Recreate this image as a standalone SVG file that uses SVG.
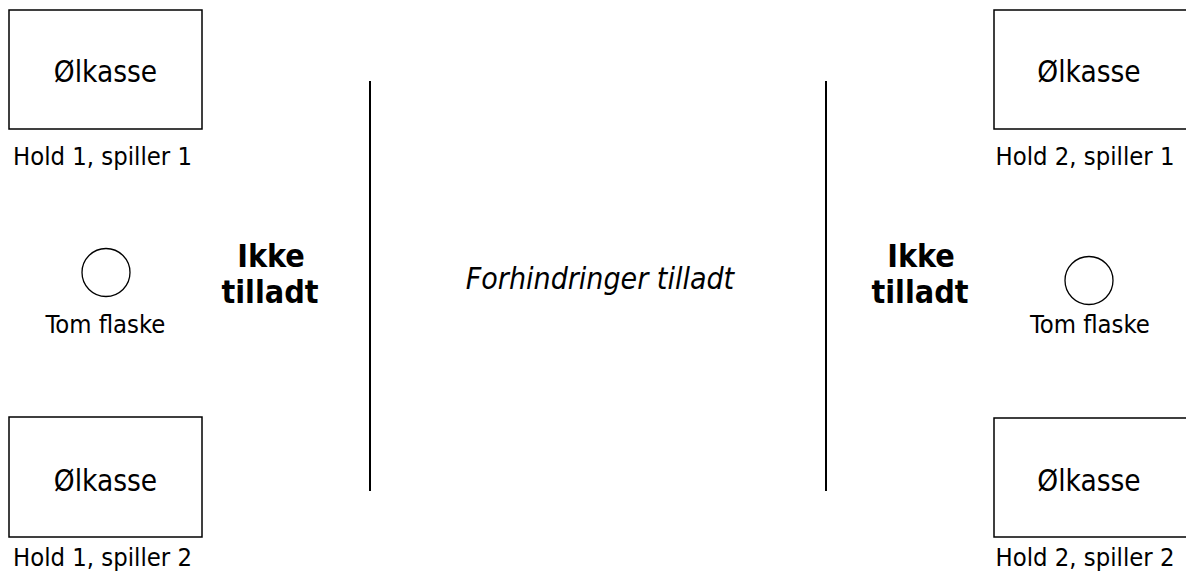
<svg xmlns="http://www.w3.org/2000/svg" width="1186" height="581" viewBox="0 0 1186 581">
<style>
text{font-family:"DejaVu Sans Condensed","DejaVu Sans",sans-serif;font-stretch:condensed;fill:#000;text-anchor:middle}
.box{fill:#fff;stroke:#000;stroke-width:1.5}
.bottle{fill:#fff;stroke:#000;stroke-width:1.3}
.lbl{font-size:29.5px}
.cap{font-size:25.4px}
.zone{font-size:32px;font-weight:bold}
.obs{font-size:30px;font-style:italic}
.line{stroke:#000;stroke-width:2}
</style>
<rect width="1186" height="581" fill="#fff"/>
<g id="kasse-h1s1"><rect class="box" x="9" y="10" width="193" height="119"/><text class="lbl" x="105.5" y="82">Ølkasse</text></g>
<g id="lbl-h1s1"><text class="cap" x="102.5" y="165">Hold 1, spiller 1</text></g>
<g id="kasse-h2s1"><rect class="box" x="994" y="10" width="200" height="119"/><text class="lbl" x="1089" y="82">Ølkasse</text></g>
<g id="lbl-h2s1"><text class="cap" x="1085" y="165">Hold 2, spiller 1</text></g>
<g id="flaske-1"><circle class="bottle" cx="106" cy="272.5" r="24"/><text class="cap" x="105.5" y="333">Tom flaske</text></g>
<g id="flaske-2"><circle class="bottle" cx="1089" cy="280.5" r="24"/><text class="cap" x="1090" y="333">Tom flaske</text></g>
<g id="zone-left"><text class="zone" x="271" y="267">Ikke</text><text class="zone" x="270" y="303">tilladt</text></g>
<g id="zone-right"><text class="zone" x="921" y="267">Ikke</text><text class="zone" x="920" y="303">tilladt</text></g>
<g id="zone-mid"><text class="obs" x="600" y="289">Forhindringer tilladt</text></g>
<g id="kasse-h1s2"><rect class="box" x="9" y="417" width="193" height="120"/><text class="lbl" x="105.5" y="491">Ølkasse</text></g>
<g id="lbl-h1s2"><text class="cap" x="102.5" y="566">Hold 1, spiller 2</text></g>
<g id="kasse-h2s2"><rect class="box" x="994" y="418" width="200" height="119"/><text class="lbl" x="1089" y="491">Ølkasse</text></g>
<g id="lbl-h2s2"><text class="cap" x="1085" y="566">Hold 2, spiller 2</text></g>
<g id="connectors">
<line class="line" x1="370" y1="81" x2="370" y2="491"/>
<line class="line" x1="826" y1="81" x2="826" y2="491"/>
</g>
</svg>
